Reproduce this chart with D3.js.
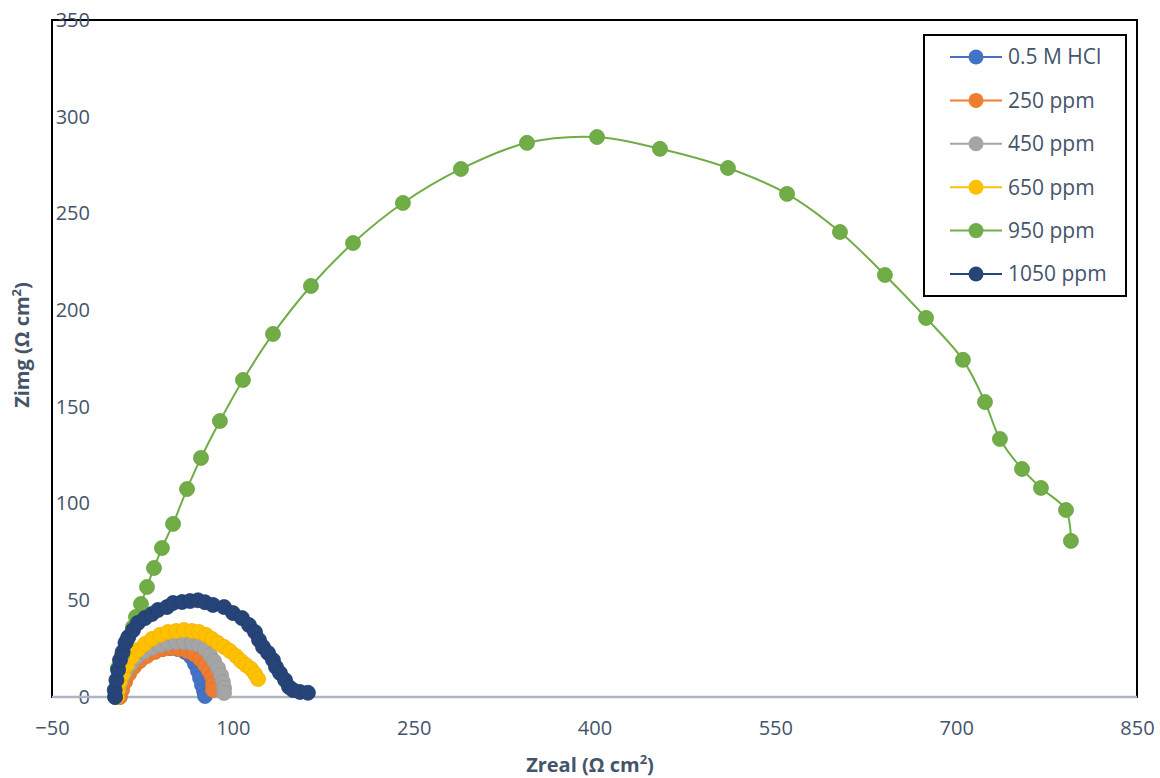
<!DOCTYPE html>
<html>
<head>
<meta charset="utf-8">
<script src="https://cdn.jsdelivr.net/npm/d3@7"></script>
<style>
  body { margin: 0; background: #fff; }
  text { font-family: "Open Sans", "Noto Sans", sans-serif; fill: #44546A; }
</style>
</head>
<body>
<div id="chart"></div>
<script>
// Nyquist data: [Zreal, Zimg] in ohm cm2
const seriesNames = ["0.5 M HCl", "250 ppm", "450 ppm", "650 ppm", "950 ppm", "1050 ppm"];
const seriesColors = ["#4472C4", "#ED7D31", "#A5A5A5", "#FFC000", "#70AD47", "#264478"];

const hcl = [[5.6,0],[7.2,4.1],[9.7,8.3],[13.0,12.4],[17.2,16.0],[22.2,19.1],[28.0,21.7],[34.6,23.8],
  [41.2,24.8],[47.9,25.3],[54.5,24.8],[60.3,23.3],[65.3,20.7],[68.6,17.1],[71.1,13.4],[72.8,9.8],
  [74.4,6.2],[76.1,3.1],[76.9,0.5]];
const ppm250 = [[6.4,0],[8.1,3.6],[10.6,7.8],[13.9,11.9],[18.0,15.5],[23.0,18.6],[28.8,21.2],[35.4,23.3],
  [42.1,24.8],[48.7,25.3],[55.3,24.8],[62.0,23.8],[67.8,22.2],[72.8,19.6],[76.9,16.5],[80.2,13.4],
  [82.7,10.3],[83.5,6.7],[83.5,3.6]];
const ppm450 = [[3.9,0],[5.6,4.7],[8.1,9.3],[11.4,13.4],[15.5,17.1],[20.5,20.7],[26.3,23.3],[32.9,25.3],
  [39.6,26.9],[46.2,27.9],[52.9,28.4],[59.5,28.4],[66.1,27.9],[71.9,26.9],[76.9,24.8],[81.1,21.7],
  [84.4,18.6],[87.7,15.0],[90.2,11.4],[91.8,7.8],[92.7,4.7],[92.7,2.1]];
const ppm650 = [[3.9,0],[4.7,3.6],[6.4,7.8],[8.9,11.9],[12.2,16.5],[16.4,20.7],[21.3,24.3],[27.1,27.4],
  [32.9,30.0],[39.6,32.1],[46.2,33.6],[52.9,34.1],[59.5,34.6],[66.1,34.1],[71.9,33.6],[77.7,32.1],
  [82.7,30.0],[87.7,27.9],[92.7,25.9],[97.6,23.8],[102.6,21.2],[106.8,18.6],[110.9,16.5],[115.1,14.5],
  [118.4,11.9],[120.9,9.3]];
const ppm950 = [[2.4,0],[4.7,15.0],[8.1,21.7],[12.2,29.5],[17.2,36.2],[19.7,41.4],[23.8,48.1],[28.8,56.9],
  [34.6,66.7],[41.2,77.0],[50.4,89.5],[62.0,107.5],[73.6,123.6],[89.3,142.7],[108.4,163.9],[133.3,187.7],
  [164.8,212.5],[199.7,234.7],[241.1,255.4],[289.2,273.0],[344.0,286.5],[402.1,289.5],[454.3,283.4],
  [510.7,273.5],[559.7,260.1],[603.6,240.4],[640.9,218.2],[675.0,196.0],[705.6,174.3],[723.9,152.5],
  [736.3,133.4],[754.6,117.9],[770.3,108.1],[791.1,96.7],[795.2,80.7]];
const ppm1050 = [[2.3,0],[2.0,3.6],[3.4,8.8],[4.8,14.0],[6.4,19.1],[8.6,23.3],[10.9,27.9],[13.3,31.0],
  [17.2,34.6],[21.3,38.3],[27.1,40.8],[32.9,42.9],[37.9,45.0],[45.4,46.5],[50.4,48.6],[57.8,49.1],
  [64.5,49.6],[71.1,50.0],[76.9,49.0],[83.5,47.6],[92.7,46.5],[100.1,43.4],[107.6,40.8],[113.4,37.2],
  [118.4,33.6],[121.7,29.5],[125.0,25.9],[129.2,22.8],[133.3,19.1],[135.8,15.5],[139.1,12.4],
  [143.3,8.8],[146.6,5.2],[149.9,3.6],[155.7,2.6],[162.3,2.2]];

const xTicks = [-50, 100, 250, 400, 550, 700, 850];
const yTicks = [0, 50, 100, 150, 200, 250, 300, 350];

const allSeries = [hcl, ppm250, ppm450, ppm650, ppm950, ppm1050];

const W = 1160, H = 778;
const plot = {left: 52, right: 1137, top: 20, bottom: 697};

const svg = d3.select("#chart").append("svg")
    .attr("width", W)
    .attr("height", H);

const x = d3.scaleLinear().domain([-50, 850]).range([plot.left, plot.right]);
const y = d3.scaleLinear().domain([0, 350]).range([plot.bottom, plot.top]);

// plot frame
svg.append("rect")
    .attr("x", plot.left).attr("y", plot.top)
    .attr("width", plot.right - plot.left)
    .attr("height", plot.bottom - plot.top)
    .attr("fill", "none")
    .attr("stroke", "#000")
    .attr("stroke-width", 2);

// x axis
const gx = svg.append("g")
    .attr("transform", "translate(0," + plot.bottom + ")")
    .call(d3.axisBottom(x).tickValues(xTicks).tickSize(0).tickFormat(d3.format("d")));
gx.select(".domain").remove();
gx.selectAll("text")
    .attr("y", 31).attr("dy", "0.35em")
    .style("font-size", "20px").attr("fill", "#44546A");

// y axis (labels sit inside the frame, right-aligned)
const gy = svg.append("g")
    .attr("transform", "translate(90,0)")
    .call(d3.axisLeft(y).tickValues(yTicks).tickSize(0).tickPadding(0));
gy.select(".domain").remove();
gy.selectAll("text")
    .style("font-size", "20px").attr("fill", "#44546A");

// horizontal zero line
svg.append("line")
    .attr("x1", plot.left).attr("x2", plot.right)
    .attr("y1", y(0)).attr("y2", y(0))
    .attr("stroke", "#ADB5C2")
    .attr("stroke-width", 2.5);

// series
const line = d3.line()
    .x(d => x(d[0]))
    .y(d => y(d[1]))
    .curve(d3.curveCatmullRom.alpha(0.5));

allSeries.forEach((data, i) => {
  const g = svg.append("g");
  g.append("path")
      .datum(data)
      .attr("fill", "none")
      .attr("stroke", seriesColors[i])
      .attr("stroke-width", 2)
      .attr("d", line);
  g.selectAll("circle")
      .data(data)
      .join("circle")
      .attr("cx", d => x(d[0]))
      .attr("cy", d => y(d[1]))
      .attr("r", 7.5)
      .attr("fill", seriesColors[i])
      .attr("stroke", d3.color(seriesColors[i]).darker(0.2))
      .attr("stroke-width", 0.8);
});

// axis titles
const xt = svg.append("text")
    .attr("x", 590).attr("y", 772)
    .attr("text-anchor", "middle")
    .style("font-size", "20px").style("font-weight", "bold");
xt.append("tspan").text("Zreal (Ω cm");
xt.append("tspan").attr("dy", -8).style("font-size", "13px").text("2");
xt.append("tspan").attr("dy", 8).text(")");

const yt = svg.append("text")
    .attr("transform", "translate(29,345) rotate(-90)")
    .attr("text-anchor", "middle")
    .style("font-size", "20px").style("font-weight", "bold");
yt.append("tspan").text("Zimg (Ω cm");
yt.append("tspan").attr("dy", -8).style("font-size", "13px").text("2");
yt.append("tspan").attr("dy", 8).text(")");

// legend
const legend = svg.append("g");
legend.append("rect")
    .attr("x", 924).attr("y", 35)
    .attr("width", 202).attr("height", 261)
    .attr("fill", "#fff")
    .attr("stroke", "#000")
    .attr("stroke-width", 2);

const item = legend.selectAll("g.item")
    .data(seriesNames)
    .join("g")
    .attr("class", "item")
    .attr("transform", (d, i) => "translate(0," + (57 + i * 43.4) + ")");
item.append("line")
    .attr("x1", 950).attr("x2", 1002)
    .attr("stroke", (d, i) => seriesColors[i])
    .attr("stroke-width", 2);
item.append("circle")
    .attr("cx", 976).attr("r", 7.5)
    .attr("fill", (d, i) => seriesColors[i]);
item.append("text")
    .attr("x", 1008).attr("dy", "0.35em")
    .style("font-size", "21px")
    .text(d => d);
</script>
</body>
</html>
